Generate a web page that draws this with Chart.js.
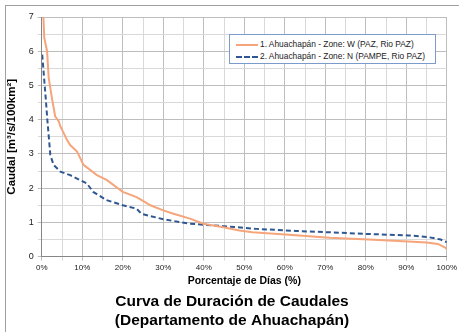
<!DOCTYPE html>
<html><head><meta charset="utf-8">
<script src="https://cdn.jsdelivr.net/npm/chart.js@4/dist/chart.umd.min.js"></script>
<style>
html,body{margin:0;padding:0;background:#fff;overflow:hidden;}
#wrap{position:relative;width:459px;height:332px;}
#frame{position:absolute;left:5px;top:5px;width:500px;height:400px;border:1px solid #a0a0a0;box-sizing:border-box;}
#legend{position:absolute;left:229px;top:34px;width:207px;height:30px;border:1px solid #7b9ccb;background:#fff;box-sizing:border-box;font:8.4px "Liberation Sans",Arial,sans-serif;color:#222;}
.li{position:absolute;left:6px;white-space:nowrap;}
.sw{display:inline-block;width:22px;height:0;vertical-align:middle;margin-right:2px;}
</style></head>
<body><div id="wrap"><div id="frame"></div><canvas id="c" width="459" height="332"></canvas>
<div id="legend"><div class="li" style="top:4px"><span class="sw" style="border-top:2px solid #F6A57B"></span>1. Ahuachapán - Zone: W (PAZ, Rio PAZ)</div>
<div class="li" style="top:16px"><span class="sw" style="border-top:2px dashed #2F5791"></span>2. Ahuachapán - Zone: N (PAMPE, Rio PAZ)</div></div></div>
<script>
const seriesNames = ["1. Ahuachapán - Zone: W (PAZ, Rio PAZ)", "2. Ahuachapán - Zone: N (PAMPE, Rio PAZ)"];
const orangeX = [0, 0.4, 0.6, 1.3, 1.7, 2.5, 3.3, 4.2, 4.6, 5.2, 6.2, 7, 8.7, 10.3, 13.6, 16, 20, 23.4, 25.4, 26.8, 30, 32.5, 36.6, 39.9, 44.8, 48.8, 52, 61, 71, 80.7, 90.5, 95, 97.8, 99.5, 100];
const orangeY = [7.6, 7.0, 6.4, 6.0, 5.22, 4.63, 4.1, 3.95, 3.8, 3.66, 3.41, 3.26, 3.07, 2.68, 2.38, 2.24, 1.89, 1.74, 1.60, 1.50, 1.35, 1.25, 1.11, 0.96, 0.86, 0.76, 0.71, 0.64, 0.55, 0.50, 0.44, 0.41, 0.37, 0.27, 0.22];
const blueX = [0.1, 0.9, 1.4, 1.8, 2.1, 2.9, 4.6, 7, 11.1, 12.7, 16, 20, 23.4, 24.6, 30, 36.6, 44.8, 53, 62.7, 71, 80.7, 90.5, 95.4, 98.5, 100];
const blueY = [5.9, 4.73, 3.95, 3.4, 2.97, 2.68, 2.48, 2.38, 2.14, 1.89, 1.65, 1.50, 1.40, 1.25, 1.09, 0.96, 0.89, 0.81, 0.75, 0.71, 0.66, 0.62, 0.57, 0.50, 0.42];
const xTitle = "Porcentaje de Días (%)";
const yTitle = "Caudal [m³/s/100km²]";
const chartTitle = ["Curva de Duración de Caudales", "(Departamento de Ahuachapán)"];

const pts = (xs, ys) => xs.map((x, i) => ({x: x, y: ys[i]}));
const FF = '"Liberation Sans", Arial, sans-serif';

new Chart(document.getElementById('c'), {
  type: 'line',
  data: { datasets: [
    { label: seriesNames[0], data: pts(orangeX, orangeY), borderColor: '#F6A57B', borderWidth: 2, pointRadius: 0, tension: 0, fill: false },
    { label: seriesNames[1], data: pts(blueX, blueY), borderColor: '#2F5791', borderWidth: 2, borderDash: [5, 3], pointRadius: 0, tension: 0, fill: false }
  ]},
  options: {
    responsive: false, animation: false,
    layout: { padding: { left: 5, right: 0, top: 17, bottom: 2 } },
    plugins: {
      legend: { display: false },
      tooltip: { enabled: false },
      title: { display: true, position: 'bottom', text: chartTitle, color: '#000',
        font: { family: FF, size: 15.5, weight: 'bold', lineHeight: 1.2 }, padding: { top: 2, bottom: 0 } }
    },
    scales: {
      x: { type: 'linear', min: 0, max: 100,
        ticks: { stepSize: 5, autoSkip: false, maxRotation: 0, color: '#222', font: { family: FF, size: 8 }, padding: 2,
          callback: v => (v % 10 === 0 ? v + '%' : '') },
        grid: { color: ctx => (ctx.tick && ctx.tick.value % 10 === 0 ? '#bdbdbd' : '#d9d9d9'), lineWidth: 1, tickLength: 4 },
        border: { color: '#868686' },
        title: { display: true, text: xTitle, color: '#000', font: { family: FF, size: 10.5, weight: 'bold' }, padding: { top: 1, bottom: 3 } }
      },
      y: { min: 0, max: 7,
        ticks: { stepSize: 0.5, autoSkip: false, color: '#222', font: { family: FF, size: 9 }, padding: 4,
          callback: v => (Number.isInteger(v) ? v : '') },
        grid: { color: ctx => (ctx.tick && Number.isInteger(ctx.tick.value) ? '#bdbdbd' : '#d9d9d9'), lineWidth: 1, tickLength: 4 },
        border: { color: '#868686' },
        title: { display: true, text: yTitle, color: '#000', font: { family: FF, size: 11.5, weight: 'bold' }, padding: { top: 0, bottom: 6 } }
      }
    }
  }
});
</script></body></html>
